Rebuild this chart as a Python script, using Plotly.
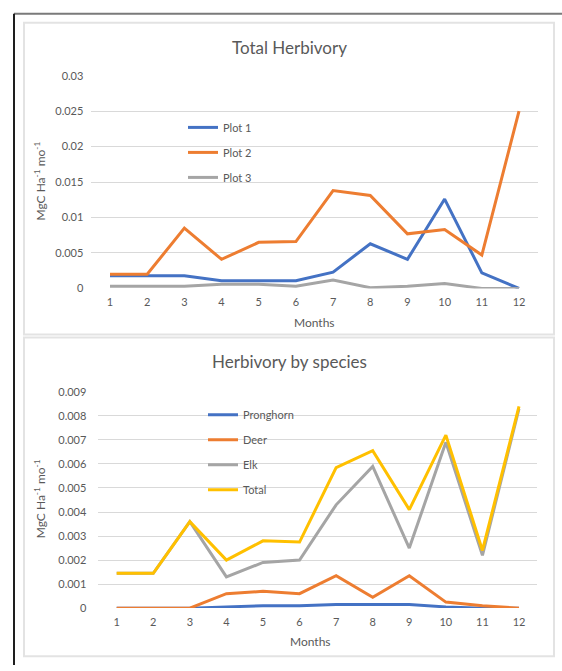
import plotly.graph_objects as go

W, H = 562, 671

months = [1, 2, 3, 4, 5, 6, 7, 8, 9, 10, 11, 12]

# Total Herbivory (MgC Ha-1 mo-1)
plot1 = [0.0018, 0.0018, 0.0018, 0.0011, 0.0011, 0.0011, 0.0023, 0.0063, 0.0041, 0.0126, 0.0022, 0.0]
plot2 = [0.0020, 0.0020, 0.0085, 0.0041, 0.0065, 0.0066, 0.0138, 0.0131, 0.0077, 0.0083, 0.0047, 0.0250]
plot3 = [0.0003, 0.0003, 0.0003, 0.0006, 0.0006, 0.0003, 0.0012, 0.0001, 0.0003, 0.0007, 0.0, 0.0]

# Herbivory by species (MgC Ha-1 mo-1)
pronghorn = [0.0, 0.0, 0.0, 0.00005, 0.0001, 0.0001, 0.00015, 0.00015, 0.00015, 0.00005, 0.0, 0.0]
deer = [0.0, 0.0, 0.0, 0.0006, 0.0007, 0.0006, 0.00135, 0.00045, 0.00135, 0.00025, 0.0001, 0.0]
elk = [0.00145, 0.00145, 0.0036, 0.0013, 0.0019, 0.0020, 0.0043, 0.0059, 0.0025, 0.0069, 0.0022, 0.0083]
total = [0.00145, 0.00145, 0.0036, 0.0020, 0.0028, 0.00275, 0.00585, 0.00655, 0.0041, 0.0072, 0.0024, 0.0084]

top_ticks = [0, 0.005, 0.01, 0.015, 0.02, 0.025, 0.03]
top_labels = ["0", "0.005", "0.01", "0.015", "0.02", "0.025", "0.03"]
bot_ticks = [0, 0.001, 0.002, 0.003, 0.004, 0.005, 0.006, 0.007, 0.008, 0.009]
bot_labels = ["0", "0.001", "0.002", "0.003", "0.004", "0.005", "0.006", "0.007", "0.008", "0.009"]

BLUE, ORANGE, GRAY, YELLOW = "#4472C4", "#ED7D31", "#A5A5A5", "#FFC000"
TXT = "#595959"
GRID = "#D9D9D9"
FONT = "Lato"


def px(x):
    return x / W


def py(y):
    return 1 - y / H


fig = go.Figure()

for name, vals, col in [("Plot 1", plot1, BLUE), ("Plot 2", plot2, ORANGE), ("Plot 3", plot3, GRAY)]:
    fig.add_trace(go.Scatter(x=months, y=vals, name=name, mode="lines",
                             line=dict(color=col, width=3), xaxis="x", yaxis="y",
                             legend="legend", legendgroup=name))

for name, vals, col in [("Pronghorn", pronghorn, BLUE), ("Deer", deer, ORANGE),
                        ("Elk", elk, GRAY), ("Total", total, YELLOW)]:
    fig.add_trace(go.Scatter(x=months, y=vals, name=name, mode="lines",
                             line=dict(color=col, width=3), xaxis="x2", yaxis="y2",
                             legend="legend2", legendgroup=name))

xcommon = dict(range=[0.5, 12.5], tickmode="array", tickvals=months, ticktext=[str(m) for m in months],
               showgrid=False, zeroline=False, showline=False, ticks="",
               tickfont=dict(family=FONT, size=11, color=TXT), fixedrange=True, ticklabelstandoff=6)
ycommon = dict(showgrid=True, gridcolor=GRID, gridwidth=1, zeroline=False, showline=False, ticks="",
               tickfont=dict(family=FONT, size=11, color=TXT), tickmode="array", fixedrange=True)

fig.update_layout(
    width=W, height=H,
    margin=dict(l=0, r=0, t=0, b=0),
    paper_bgcolor="white", plot_bgcolor="white",
    font=dict(family=FONT, color=TXT),
    xaxis=dict(domain=[px(91.4), px(537.6)], anchor="y", **xcommon),
    yaxis=dict(domain=[py(287), py(70)], anchor="x", range=[0, 0.03],
               tickvals=top_ticks, ticktext=top_labels, ticklabelstandoff=7, **ycommon),
    xaxis2=dict(domain=[px(98.4), px(537.3)], anchor="y2", **xcommon),
    yaxis2=dict(domain=[py(613), py(392.5)], anchor="x2", range=[0, 0.009],
                tickvals=bot_ticks, ticktext=bot_labels, ticklabelstandoff=11, **ycommon),
    legend=dict(x=px(183), y=py(108), xanchor="left", yanchor="top", bgcolor="rgba(0,0,0,0)",
                font=dict(family=FONT, size=11, color=TXT), tracegroupgap=6, itemwidth=30),
    legend2=dict(x=px(203), y=py(401), xanchor="left", yanchor="top", bgcolor="rgba(0,0,0,0)",
                 font=dict(family=FONT, size=11, color=TXT), tracegroupgap=6, itemwidth=30),
    showlegend=True,
)

annotations = [
    dict(text="Total Herbivory", x=px(289), y=py(41), font=dict(family=FONT, size=17, color=TXT)),
    dict(text="Herbivory by species", x=px(289), y=py(361), font=dict(family=FONT, size=17, color=TXT)),
    dict(text="Months", x=px(314), y=py(322), font=dict(family=FONT, size=12, color=TXT)),
    dict(text="Months", x=px(310), y=py(647), font=dict(family=FONT, size=12, color=TXT)),
    dict(text="MgC Ha<sup>-1</sup> mo<sup>-1</sup>", x=px(40), y=py(178), textangle=-90,
         font=dict(family=FONT, size=12, color=TXT)),
    dict(text="MgC Ha<sup>-1</sup> mo<sup>-1</sup>", x=px(40), y=py(502), textangle=-90,
         font=dict(family=FONT, size=12, color=TXT)),
]
for a in annotations:
    a.update(xref="paper", yref="paper", showarrow=False, xanchor="center", yanchor="middle")
fig.update_layout(annotations=annotations)

shapes = [
    # panel boxes
    dict(type="rect", x0=px(24), x1=px(554), y0=py(334), y1=py(16), line=dict(color="#E3E3E3", width=2)),
    dict(type="rect", x0=px(24), x1=px(554), y0=py(662), y1=py(337), line=dict(color="#E3E3E3", width=2)),
    # outer screenshot frame
    dict(type="line", x0=px(14), x1=px(562), y0=py(7), y1=py(7), line=dict(color="#7A7A7A", width=2)),
    dict(type="line", x0=px(14), x1=px(14), y0=py(7), y1=py(671), line=dict(color="#1E1E1E", width=2)),
]
for s in shapes:
    s.update(xref="paper", yref="paper", layer="above")
fig.update_layout(shapes=shapes)

fig.write_html(
    "out.html",
    config={"displayModeBar": False},
    post_script="document.documentElement.style.margin='0';document.body.style.margin='0';"
                "document.body.style.padding='0';document.body.style.overflow='hidden';",
)
